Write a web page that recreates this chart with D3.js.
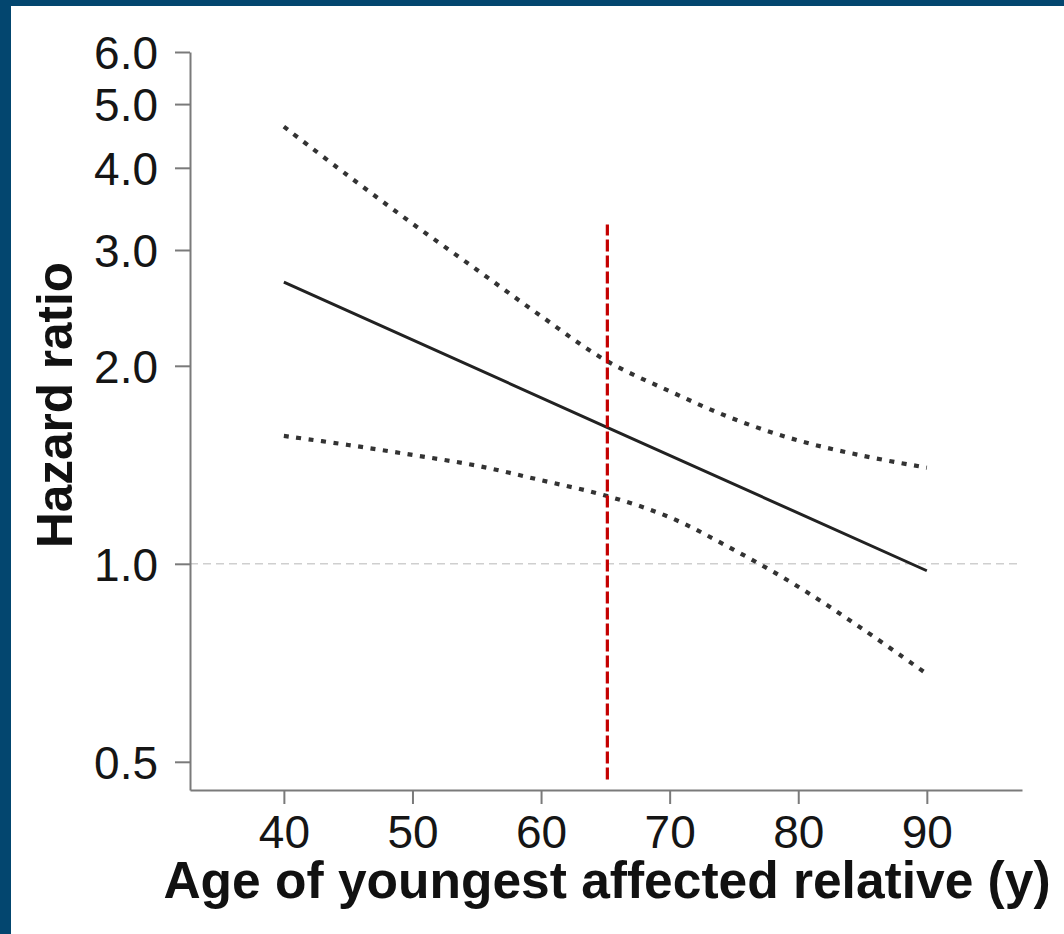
<!DOCTYPE html>
<html>
<meta charset="utf-8">
<style>
body {
  margin: 0;
  background: #03466f;
}
svg {
  display: block;
  font-family: "Liberation Sans", Arial, sans-serif;
}
.axis path,
.axis line {
  fill: none;
  stroke: #7a7a7a;
  stroke-width: 2px;
}
.axis text {
  fill: #151515;
  font-size: 46px;
}
.label {
  fill: #111;
  font-weight: bold;
}
</style>
<body>
<script src="https://d3js.org/d3.v7.min.js"></script>
<script>
// values
var ages = [40, 45, 50, 55, 60, 65, 70, 75, 80, 85, 90];
var upperCI = [4.62, 3.89, 3.29, 2.80, 2.38, 2.04, 1.83, 1.66, 1.54, 1.46, 1.40];
var lowerCI = [1.565, 1.516, 1.464, 1.41, 1.34, 1.27, 1.177, 1.05, 0.923, 0.796, 0.68];
var estAges = [40, 65, 90];
var estimate = [2.68, 1.617, 0.976];
var xTicks = [40, 50, 60, 70, 80, 90];
var yTicks = [0.5, 1.0, 2.0, 3.0, 4.0, 5.0, 6.0];
var cutoffAge = 65;
var cutoffSpan = [0.47, 3.28];
var refHR = 1.0;

var W = 1064, H = 934;
var plot = {left: 190, right: 1022, top: 52, bottom: 790};

var svg = d3.select("body").append("svg")
    .attr("width", W)
    .attr("height", H);

// white panel inside the blue frame
svg.append("rect")
    .attr("x", 11)
    .attr("y", 6)
    .attr("width", W - 11)
    .attr("height", H - 6)
    .attr("fill", "#fff");

var x = d3.scaleLinear().domain([32.7, 97.4]).range([plot.left, plot.right]);
var y = d3.scaleLog().domain([0.453, 6.0]).range([plot.bottom, plot.top]);

// reference line at HR = 1
svg.append("line")
    .attr("x1", plot.left)
    .attr("x2", plot.right)
    .attr("y1", y(refHR))
    .attr("y2", y(refHR))
    .attr("stroke", "#cfcfcf")
    .attr("stroke-width", 1.6)
    .attr("stroke-dasharray", "8,5");

// y axis
svg.append("g")
    .attr("class", "y axis")
    .attr("transform", "translate(" + plot.left + ",0)")
    .call(d3.axisLeft(y).tickValues(yTicks).tickFormat(d3.format(".1f"))
      .tickSize(15).tickSizeOuter(0).tickPadding(17));

// x axis
svg.append("g")
    .attr("class", "x axis")
    .attr("transform", "translate(0," + plot.bottom + ")")
    .call(d3.axisBottom(x).tickValues(xTicks).tickFormat(d3.format("d"))
      .tickSize(14).tickSizeOuter(0).tickPadding(11));

svg.selectAll(".y.axis text").attr("dy", "0.36em");

// axis titles
svg.append("text")
    .attr("class", "label")
    .attr("x", 607)
    .attr("y", 898)
    .attr("text-anchor", "middle")
    .style("font-size", "51.5px")
    .text("Age of youngest affected relative (y)");

svg.append("text")
    .attr("class", "label")
    .attr("transform", "translate(72,405) rotate(-90)")
    .attr("text-anchor", "middle")
    .style("font-size", "49.5px")
    .text("Hazard ratio");

// lines
var ciLine = d3.line()
    .x(function(d) { return x(d[0]); })
    .y(function(d) { return y(d[1]); })
    .curve(d3.curveCatmullRom);

[upperCI, lowerCI].forEach(function(vals) {
  svg.append("path")
      .datum(ages.map(function(a, i) { return [a, vals[i]]; }))
      .attr("d", ciLine)
      .attr("fill", "none")
      .attr("stroke", "#333")
      .attr("stroke-width", 4.2)
      .attr("stroke-dasharray", "5,7.5");
});

svg.append("path")
    .datum(estAges.map(function(a, i) { return [a, estimate[i]]; }))
    .attr("d", d3.line().x(function(d) { return x(d[0]); }).y(function(d) { return y(d[1]); }))
    .attr("fill", "none")
    .attr("stroke", "#222")
    .attr("stroke-width", 3);

// cut-off at 65 years
svg.append("line")
    .attr("x1", x(cutoffAge) + 2)
    .attr("x2", x(cutoffAge) + 2)
    .attr("y1", y(cutoffSpan[0]))
    .attr("y2", y(cutoffSpan[1]))
    .attr("stroke", "#c40000")
    .attr("stroke-width", 3.2)
    .attr("stroke-dasharray", "12,4");
</script>
</body>
</html>
